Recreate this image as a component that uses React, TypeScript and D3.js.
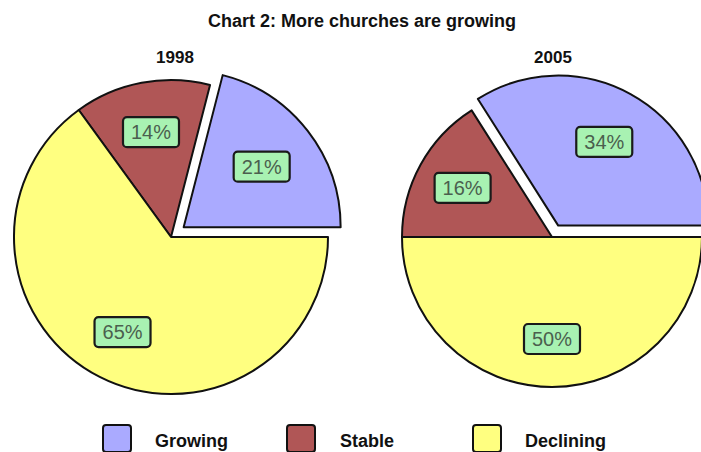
import React from "react";
import * as d3 from "d3";

const title = "Chart 2: More churches are growing";
const categories = ["Growing", "Stable", "Declining"];
const years = ["1998", "2005"];
const values1998 = [21, 14, 65];
const values2005 = [34, 16, 50];
const colors = ["#aaaaff", "#b05656", "#ffff80"];

const W = 701;
const H = 452;

type PieSpec = { year: string; values: number[]; cx: number; cy: number; r: number; explode: number };

const pies: PieSpec[] = [
  { year: years[0], values: values1998, cx: 171, cy: 237, r: 157, explode: 16 },
  { year: years[1], values: values2005, cx: 552, cy: 237, r: 150, explode: 13 },
];

const font = "'Liberation Sans', Arial, sans-serif";

function Pie({ spec }: { spec: PieSpec }) {
  const pieGen = d3
    .pie<number>()
    .sort(null)
    .value((d) => d)
    .startAngle(Math.PI / 2)
    .endAngle(Math.PI / 2 - 2 * Math.PI);
  const arcs = pieGen(spec.values);
  const arcGen = d3.arc<d3.PieArcDatum<number>>().innerRadius(0).outerRadius(spec.r);
  return (
    <g transform={`translate(${spec.cx},${spec.cy})`}>
      {arcs.map((a, i) => {
        const m = (a.startAngle + a.endAngle) / 2;
        const d = i === 0 ? spec.explode : 0;
        const ox = Math.sin(m) * d;
        const oy = -Math.cos(m) * d;
        return (
          <path
            key={i}
            d={arcGen(a) || ""}
            transform={`translate(${ox},${oy})`}
            fill={colors[i]}
            stroke="#111"
            strokeWidth={2}
            strokeLinejoin="round"
          />
        );
      })}
      {arcs.map((a, i) => {
        const m = (a.startAngle + a.endAngle) / 2;
        const d = i === 0 ? spec.explode : 0;
        const lr = spec.r * 0.68 + d * 0.5;
        const x = Math.sin(m) * lr;
        const y = -Math.cos(m) * lr;
        return (
          <g key={"l" + i} transform={`translate(${x},${y})`}>
            <rect x={-28} y={-15} width={56} height={30} rx={4} fill="#a8f2b2" stroke="#1a1a1a" strokeWidth={2.2} />
            <text
              x={0}
              y={7}
              textAnchor="middle"
              fontFamily={font}
              fontSize={20}
              fill="#4b5f4e"
              textLength={40}
              lengthAdjust="spacingAndGlyphs"
            >
              {a.data}%
            </text>
          </g>
        );
      })}
      <text
        x={spec.cx === 171 ? 4 : 1}
        y={-174}
        textAnchor="middle"
        fontFamily={font}
        fontWeight="bold"
        fontSize={17}
        fill="#111"
      >
        {spec.year}
      </text>
    </g>
  );
}

export default function App() {
  const legendX = [103, 287, 473];
  const legendTextX = [155, 340, 525];
  return (
    <svg width={W} height={H} style={{ position: "absolute", left: 0, top: 0, background: "#fff" }}>
      <rect x={0} y={0} width={W} height={H} fill="#fff" />
      <text x={362} y={27} textAnchor="middle" fontFamily={font} fontWeight="bold" fontSize={18} fill="#111">
        {title}
      </text>
      {pies.map((p) => (
        <Pie key={p.year} spec={p} />
      ))}
      {categories.map((c, i) => (
        <g key={c}>
          <rect x={legendX[i]} y={425} width={28} height={27} rx={3} fill={colors[i]} stroke="#111" strokeWidth={2} />
          <text x={legendTextX[i]} y={447} fontFamily={font} fontWeight="bold" fontSize={18} fill="#111">
            {c}
          </text>
        </g>
      ))}
    </svg>
  );
}
